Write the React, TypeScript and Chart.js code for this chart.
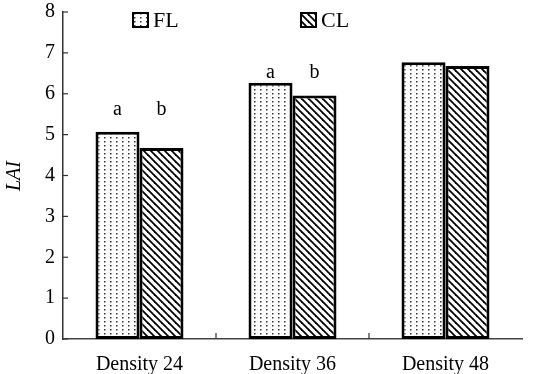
import React, { useEffect, useRef } from "react";
import { Chart, registerables } from "chart.js";

Chart.register(...registerables);

const categories = ["Density 24", "Density 36", "Density 48"];
const seriesNames = ["FL", "CL"];
const flValues = [5.07, 6.27, 6.77];
const clValues = [4.67, 5.96, 6.68];
const flLetters = ["a", "a", ""];
const clLetters = ["b", "b", ""];
const letterLevels = [5.6, 6.52, 0];
const yTicks = [0, 1, 2, 3, 4, 5, 6, 7, 8];
const yTitle = "LAI";

const SERIF = "'Liberation Serif', 'Times New Roman', serif";

function makeDots(): CanvasPattern | string {
  const c = document.createElement("canvas");
  c.width = 6;
  c.height = 4;
  const g = c.getContext("2d");
  if (!g) return "#fff";
  g.fillStyle = "#fff";
  g.fillRect(0, 0, 6, 4);
  g.fillStyle = "#333";
  g.fillRect(2, 1, 1.5, 1.5);
  return g.createPattern(c, "repeat") || "#fff";
}

function makeHatch(): CanvasPattern | string {
  const s = 7;
  const c = document.createElement("canvas");
  c.width = s;
  c.height = s;
  const g = c.getContext("2d");
  if (!g) return "#fff";
  g.fillStyle = "#fff";
  g.fillRect(0, 0, s, s);
  g.strokeStyle = "#000";
  g.lineWidth = 1.8;
  for (const off of [-s, 0, s]) {
    g.beginPath();
    g.moveTo(off - 1, -1);
    g.lineTo(off + s + 1, s + 1);
    g.stroke();
  }
  return g.createPattern(c, "repeat") || "#fff";
}

export default function App() {
  const ref = useRef<HTMLCanvasElement | null>(null);

  useEffect(() => {
    document.body.style.margin = "0";
    const canvas = ref.current;
    if (!canvas) return;
    const dots = makeDots();
    const hatch = makeHatch();
    const letters = [flLetters, clLetters];

    const overlay = {
      id: "overlay",
      afterDraw(chart: any) {
        const ctx = chart.ctx;
        const x = chart.scales.x;
        const y = chart.scales.y;
        const area = chart.chartArea;
        ctx.save();
        ctx.strokeStyle = "#333";
        ctx.lineWidth = 1.2;
        for (const t of yTicks) {
          const py = y.getPixelForValue(t);
          ctx.beginPath();
          ctx.moveTo(area.left, py);
          ctx.lineTo(area.left + 5, py);
          ctx.stroke();
        }
        for (let i = 0; i < categories.length - 1; i++) {
          const px = (x.getPixelForValue(i) + x.getPixelForValue(i + 1)) / 2;
          ctx.beginPath();
          ctx.moveTo(px, area.bottom);
          ctx.lineTo(px, area.bottom - 6);
          ctx.stroke();
        }
        ctx.fillStyle = "#000";
        ctx.font = `20px ${SERIF}`;
        ctx.textAlign = "center";
        ctx.textBaseline = "middle";
        letters.forEach((arr, d) => {
          const meta = chart.getDatasetMeta(d);
          arr.forEach((l, i) => {
            if (!l) return;
            ctx.fillText(l, meta.data[i].x, y.getPixelForValue(letterLevels[i]));
          });
        });
        const boxX = [133, 301];
        chart.data.datasets.forEach((ds: any, d: number) => {
          const bx = boxX[d];
          ctx.fillStyle = ds.backgroundColor;
          ctx.fillRect(bx, 13, 15, 14);
          ctx.strokeStyle = "#000";
          ctx.lineWidth = 2;
          ctx.strokeRect(bx, 13, 15, 14);
          ctx.fillStyle = "#000";
          ctx.font = `22px ${SERIF}`;
          ctx.textAlign = "left";
          ctx.textBaseline = "middle";
          ctx.fillText(ds.label, bx + 20, 21);
        });
        ctx.translate(15, 176);
        ctx.rotate(-Math.PI / 2);
        ctx.font = `italic 20px ${SERIF}`;
        ctx.textAlign = "center";
        ctx.textBaseline = "middle";
        ctx.fillText(yTitle, 0, 0);
        ctx.restore();
      },
    };

    const chart = new Chart(canvas, {
      type: "bar",
      data: {
        labels: categories,
        datasets: [
          {
            label: seriesNames[0],
            data: flValues,
            backgroundColor: dots as any,
            borderColor: "#000",
            borderWidth: 3,
            borderSkipped: false,
          },
          {
            label: seriesNames[1],
            data: clValues,
            backgroundColor: hatch as any,
            borderColor: "#000",
            borderWidth: 3,
            borderSkipped: false,
          },
        ],
      },
      options: {
        responsive: false,
        animation: false,
        layout: { padding: { top: 5, right: 13, left: 0, bottom: 0 } },
        datasets: { bar: { categoryPercentage: 0.575, barPercentage: 1 } },
        plugins: { legend: { display: false }, tooltip: { enabled: false } },
        scales: {
          x: {
            grid: { display: false },
            border: { display: true, color: "#444", width: 1.5 },
            ticks: { color: "#000", font: { family: SERIF, size: 20 }, padding: 6 },
            afterFit: (s: any) => {
              s.height = 35;
            },
          },
          y: {
            min: 0,
            max: 8,
            grid: { display: false },
            border: { display: true, color: "#333", width: 1.5 },
            ticks: {
              stepSize: 1,
              color: "#000",
              font: { family: SERIF, size: 20 },
              padding: 0,
            },
            afterFit: (s: any) => {
              s.width = 63;
            },
          },
        },
      },
      plugins: [overlay],
    });
    return () => chart.destroy();
  }, []);

  return (
    <div style={{ position: "fixed", left: 0, top: 0, width: 535, height: 374, background: "#fff" }}>
      <canvas ref={ref} width={535} height={374} />
    </div>
  );
}
